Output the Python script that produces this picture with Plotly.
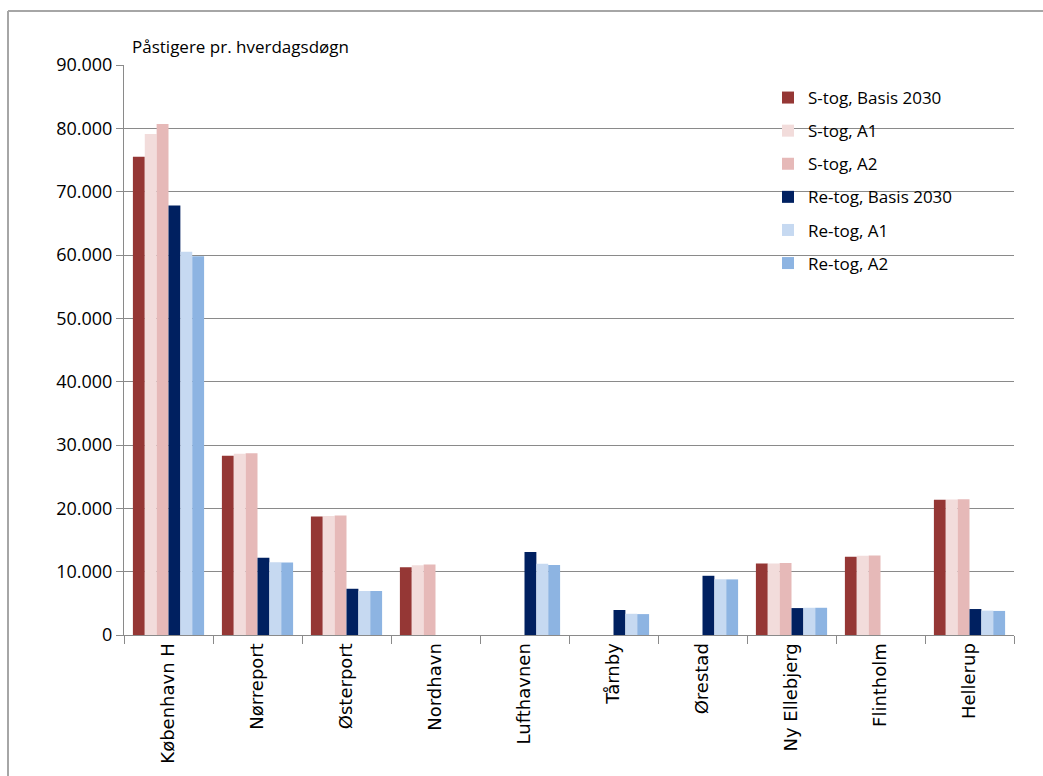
import plotly.graph_objects as go

stations = ["København H", "Nørreport", "Østerport", "Nordhavn", "Lufthavnen",
            "Tårnby", "Ørestad", "Ny Ellebjerg", "Flintholm", "Hellerup"]

s_basis = [75500, 28300, 18700, 10700, None, None, None, 11300, 12350, 21350]
s_a1 = [79100, 28600, 18800, 11000, None, None, None, 11300, 12500, 21400]
s_a2 = [80700, 28700, 18850, 11150, None, None, None, 11350, 12550, 21450]
re_basis = [67800, 12200, 7300, None, 13100, 3950, 9350, 4250, None, 4100]
re_a1 = [60500, 11500, 6950, None, 11250, 3350, 8800, 4300, None, 3850]
re_a2 = [59800, 11450, 6950, None, 11050, 3300, 8780, 4300, None, 3800]

series_names = ["S-tog, Basis 2030", "S-tog, A1", "S-tog, A2",
                "Re-tog, Basis 2030", "Re-tog, A1", "Re-tog, A2"]
series_values = [s_basis, s_a1, s_a2, re_basis, re_a1, re_a2]
colors = ["#953735", "#F2DCDB", "#E6B9B8", "#002060", "#C6D9F1", "#8DB4E2"]

y_title = "Påstigere pr. hverdagsdøgn"

fig = go.Figure()
for i, (name, vals, col) in enumerate(zip(series_names, series_values, colors)):
    fig.add_trace(go.Bar(
        x=stations, y=vals, name=name, marker_color=col,
        marker_line_width=0, legendgroup=f"g{i}",
    ))

W, H = 1043, 776
L, R, T, B = 124, 29, 65, 141
pw, ph = W - L - R, H - T - B

def px_x(x):
    return (x - L) / pw

def px_y(y):
    return (H - B - y) / ph

fig.update_layout(
    width=W, height=H,
    margin=dict(l=L, r=R, t=T, b=B),
    paper_bgcolor="white", plot_bgcolor="white",
    barmode="group", bargap=0.2, bargroupgap=0,
    separators=",.",
    font=dict(family="Open Sans, Liberation Sans, sans-serif", size=17, color="black"),
    showlegend=True,
    legend=dict(
        x=px_x(768), y=px_y(80), xanchor="left", yanchor="top",
        bgcolor="rgba(0,0,0,0)", traceorder="grouped", tracegroupgap=8,
        font=dict(size=17), itemwidth=30,
    ),
    xaxis=dict(
        showline=True, linecolor="#8a8a8a", linewidth=1,
        ticks="outside", tickson="boundaries", ticklen=8, tickcolor="#8a8a8a",
        tickangle=-90, tickfont=dict(family="DejaVu Sans", size=18),
        showgrid=False,
    ),
    yaxis=dict(
        range=[0, 90000], dtick=10000, tickformat=",",
        showline=True, linecolor="#8a8a8a", linewidth=1,
        ticks="outside", ticklen=7, tickcolor="#8a8a8a",
        showgrid=True, gridcolor="#8a8a8a", gridwidth=1,
        zeroline=False, tickfont=dict(size=18),
    ),
    shapes=[
        dict(type="line", xref="paper", yref="paper",
             x0=px_x(8), x1=px_x(8), y0=px_y(11), y1=px_y(H + 5),
             line=dict(color="#a6a6a6", width=2)),
        dict(type="line", xref="paper", yref="paper",
             x0=px_x(8), x1=px_x(W + 5), y0=px_y(11), y1=px_y(11),
             line=dict(color="#a6a6a6", width=2)),
    ],
    annotations=[
        dict(text=y_title, xref="paper", yref="paper",
             x=px_x(130), y=px_y(47), xanchor="left", yanchor="middle",
             showarrow=False, font=dict(size=17)),
    ],
)

fig.write_html("out.html")
